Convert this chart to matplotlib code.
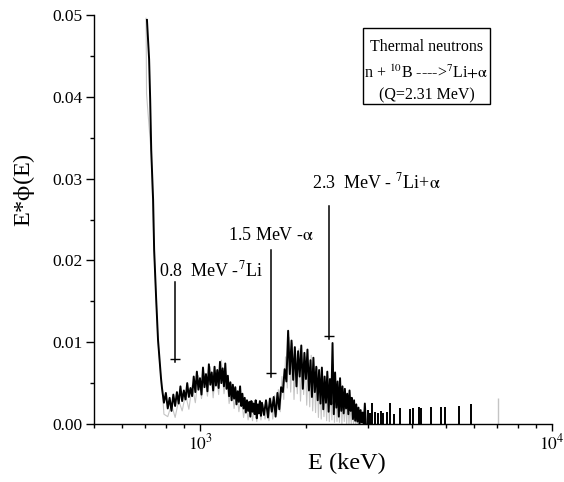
import math
import matplotlib
matplotlib.use("Agg")
import matplotlib.pyplot as plt
from matplotlib.ticker import LogLocator, FixedLocator, MultipleLocator, FuncFormatter, NullFormatter
from matplotlib.patches import Rectangle

plt.rcParams['font.family'] = 'serif'
plt.rcParams['font.serif'] = ['Liberation Serif', 'DejaVu Serif']
plt.rcParams['mathtext.fontset'] = 'stix'

# --- data: energy (keV) and E*phi(E) in units of 1e-3 ---
# steep thermal edge
edge_E = [707, 717, 722, 727, 736, 741, 751, 760, 770, 775, 780]
edge_phi = [49.4, 44.6, 39.7, 33.5, 27.4, 21.3, 15.2, 10.3, 7.2, 5.6, 4.4]

# noisy recoil spectrum (black trace)
spec_E = [790, 800, 810, 820, 830, 840, 850, 860, 870, 880, 890, 900, 910, 920, 930, 940,
          950, 960, 970, 980, 990, 1000, 1010, 1020, 1030, 1040, 1050, 1060, 1070, 1080,
          1090, 1100, 1110, 1120, 1130, 1140, 1150, 1160, 1170, 1180, 1190, 1200, 1210,
          1220, 1230, 1240, 1250, 1260, 1270, 1280, 1290, 1300, 1310, 1320, 1330, 1340,
          1350, 1360, 1370, 1380, 1390, 1400, 1410, 1420, 1430, 1440, 1450, 1460, 1470,
          1480, 1490, 1500,
          1520, 1540, 1560, 1580, 1600, 1620, 1640, 1660, 1680, 1700, 1720, 1740, 1760,
          1780, 1800, 1820, 1840, 1860, 1880, 1900, 1920, 1940, 1960, 1980, 2000, 2020,
          2040, 2060, 2080, 2100, 2120, 2140, 2160, 2180, 2200, 2220, 2240, 2260, 2280,
          2300, 2320, 2340, 2360, 2380, 2400, 2420, 2440, 2460, 2480, 2500, 2520, 2540,
          2560, 2580, 2600, 2620, 2640, 2660, 2680, 2700, 2720, 2740, 2760, 2780, 2800,
          2820, 2840, 2860, 2880, 2900, 2920, 2940, 2960]
spec_phi = [2.6, 3.8, 1.9, 3.2, 1.6, 3.6, 2.2, 3.9, 2.5, 4.6, 2.8, 4.1, 3.0, 5.0, 3.3, 4.4,
            3.4, 5.8, 3.9, 6.4, 4.2, 5.6, 3.6, 6.9, 4.5, 6.1, 4.0, 7.3, 4.8, 6.3,
            4.1, 7.0, 4.7, 6.6, 4.4, 7.6, 5.0, 6.8, 4.6, 7.4, 4.3, 5.9, 3.4,
            5.1, 2.9, 4.8, 3.1, 4.5, 2.4, 4.0, 2.7, 4.6, 2.2, 3.7, 1.9, 3.2,
            1.4, 2.9, 1.6, 2.7, 0.9, 2.8, 1.5, 2.5, 1.2, 2.9, 0.7, 2.4, 1.3,
            2.8, 1.0, 2.6,
            1.1, 2.9, 0.8, 3.1, 1.5, 3.3, 0.9, 3.8, 1.8, 4.5, 3.9, 6.7, 5.2,
            11.4, 6.1, 10.2, 5.4, 9.4, 4.6, 8.9, 5.8, 9.6, 4.3, 8.7, 5.5, 9.1,
            4.1, 7.8, 3.3, 8.1, 3.9, 7.0, 2.9, 6.6, 2.5, 6.9, 1.8, 5.8, 2.6,
            6.4, 1.5, 5.5, 2.4, 9.9, 1.2, 6.3, 2.0, 5.2, 0.9, 5.6, 1.6, 4.6,
            1.3, 4.3, 1.9, 3.7, 1.2, 4.1, 1.6, 3.2, 0.6, 2.9, 0.4, 2.4, 0.3,
            2.0, 0.0, 1.7, 0.2, 1.4, 0.0, 2.5, 0.0]

# isolated counts at high energy (single-channel spikes)
tail_E = [3000, 3040, 3080, 3140, 3200, 3260, 3320, 3400, 3460, 3560, 3700, 3940, 4040,
          4200, 4250, 4530, 4830, 4960, 5440, 5880]
tail_phi = [1.7, 1.4, 2.6, 1.5, 1.3, 1.6, 1.4, 1.5, 2.6, 1.2, 2.0, 1.8, 1.9,
            2.1, 2.0, 2.1, 2.1, 2.1, 2.2, 2.5]

# second (grey) trace
grey_E = [703, 705, 712, 727, 741, 760, 775, 785,
          790, 810, 830, 850, 870, 890, 910, 930, 950, 970, 990, 1010, 1030, 1050, 1070,
          1090, 1110, 1130, 1150, 1170, 1190, 1210, 1230, 1250, 1270, 1290, 1310, 1330,
          1350, 1370, 1390, 1410, 1430, 1450, 1470, 1490, 1510, 1530, 1550, 1570, 1590,
          1610, 1630, 1650, 1670, 1690, 1710, 1730, 1750, 1770, 1790, 1810, 1830, 1850,
          1870, 1890, 1910, 1930, 1950, 1970, 1990, 2010, 2030, 2050, 2070, 2090, 2110,
          2130, 2150, 2170, 2190, 2210, 2230, 2250, 2270, 2290, 2310, 2330, 2350, 2370,
          2390, 2410, 2430, 2450, 2470, 2490, 2510, 2530, 2550, 2570, 2590, 2610, 2630,
          2650, 2670, 2690, 2710, 2730, 2750, 2770, 2790, 2810, 2830, 2850, 2870, 2890]
grey_phi = [49.6, 40.4, 38.0, 33.0, 21.0, 10.0, 5.5, 3.0,
            1.2, 0.9, 2.4, 0.8, 2.9, 1.6, 3.6, 1.8, 4.7, 2.6, 5.9, 3.1, 6.2, 3.4, 7.0,
            3.2, 6.5, 3.6, 7.8, 3.7, 6.0, 2.5, 4.9, 1.9, 4.1, 1.5, 3.6, 0.8,
            2.6, 0.5, 2.9, 0.4, 2.3, 0.3, 2.6, 0.5, 2.4, 0.6, 2.7, 0.4, 3.2,
            0.6, 3.5, 1.1, 4.2, 1.5, 5.8, 3.0, 8.2, 4.4, 10.6, 3.9, 9.9, 3.0,
            8.6, 3.7, 9.2, 2.8, 7.5, 3.6, 8.2, 2.3, 7.4, 2.1, 8.4, 1.6, 6.1,
            1.4, 6.9, 0.8, 5.5, 0.6, 6.0, 0.9, 4.7, 0.4, 5.9, 0.3, 4.2, 0.5,
            7.3, 0.2, 4.9, 0.3, 3.9, 0.2, 4.2, 0.0, 3.1, 0.3, 3.4, 0.0, 2.8,
            0.0, 2.2, 0.0, 2.6, 0.0, 1.7, 0.0, 1.9, 0.0, 1.2, 0.0, 0.9, 0.0]
grey_spike_E = [7030]
grey_spike_phi = [3.2]

# peak markers: energy, top of line, crossbar, bottom of line (E*phi units)
marker_E = [850, 1590, 2320]
marker_top = [0.0173, 0.0213, 0.0266]
marker_bar = [0.0080, 0.0062, 0.0108]
marker_bot = [0.0076, 0.0058, 0.0104]

ann_text = [r"0.8  MeV -$^{7}$Li", r"1.5 MeV -$\mathrm{\alpha}$",
            r"2.3  MeV - $^{7}$Li+$\mathrm{\alpha}$"]
ann_E = [766, 1589, 2076]
ann_y = [0.0180, 0.0225, 0.0288]
ann_ha = ['left', 'center', 'left']

box_lines = ["Thermal neutrons", r"n + $^{10}$B ---->$^{7}$Li$+\mathrm{\alpha}$", "(Q=2.31 MeV)"]

scale = 1e-3

fig = plt.figure(figsize=(5.64, 4.82), dpi=100)
ax = fig.add_axes([94 / 564, 58 / 482, 458 / 564, 409 / 482])

ax.plot(grey_E, [v * scale for v in grey_phi], color='#c4c4c4', lw=0.8)
ax.vlines(grey_spike_E, 0, [v * scale for v in grey_spike_phi], color='#c4c4c4', lw=1.0)
ax.plot(edge_E + spec_E, [v * scale for v in edge_phi + spec_phi], color='black', lw=1.4)
ax.vlines(tail_E, 0, [v * scale for v in tail_phi], color='black', lw=1.4)

for e, t, b, lo in zip(marker_E, marker_top, marker_bar, marker_bot):
    ax.plot([e, e], [lo, t], color='black', lw=1.1)
    ax.plot([e], [b], marker='_', color='black', ms=7, mew=1.0)

for txt, e, y, ha in zip(ann_text, ann_E, ann_y, ann_ha):
    ax.text(e, y, txt, ha=ha, va='baseline', fontsize=13)

# legend-like box
ax.add_patch(Rectangle((0.587, 0.782), 0.278, 0.186, transform=ax.transAxes,
                       fill=False, ec='black', lw=1.0, clip_on=False))
for txt, yy in zip(box_lines, [0.922, 0.861, 0.804]):
    ax.text(0.726, yy, txt, transform=ax.transAxes, ha='center', va='center', fontsize=11.5)

ax.set_xscale('log')
ax.set_xlim(500, 10000)
ax.set_ylim(0, 0.05)

ax.xaxis.set_major_locator(FixedLocator([1000, 10000]))
ax.xaxis.set_major_formatter(FuncFormatter(lambda v, p: r"$10^{%d}$" % round(math.log10(v))))
ax.xaxis.set_minor_locator(LogLocator(base=10, subs=[2, 3, 4, 5, 6, 7, 8, 9]))
ax.xaxis.set_minor_formatter(NullFormatter())
ax.yaxis.set_major_locator(MultipleLocator(0.01))
ax.yaxis.set_minor_locator(MultipleLocator(0.005))
ax.yaxis.set_major_formatter(FuncFormatter(lambda v, p: "%.2f" % v))

for s in ['top', 'right']:
    ax.spines[s].set_visible(False)
for s in ['left', 'bottom']:
    ax.spines[s].set_linewidth(1.0)

ax.tick_params(axis='both', which='both', direction='out', width=1.0, labelsize=12.5)
ax.tick_params(axis='x', which='major', length=5, pad=2)
ax.tick_params(axis='x', which='minor', length=3)
ax.tick_params(axis='y', which='major', length=6, pad=2)
ax.tick_params(axis='y', which='minor', length=3)

ax.set_xlabel("E (keV)", fontsize=17.5)
ax.xaxis.set_label_coords((347 - 94) / 458, -0.07)
ax.set_ylabel(r"E*$\mathrm{\phi}$(E)", fontsize=17.5)
ax.yaxis.set_label_coords(-0.125, (424 - 190) / 409)

fig.savefig("out.png", dpi=100)
